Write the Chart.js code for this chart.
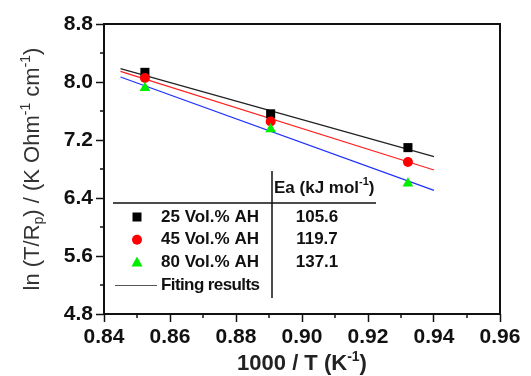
<!DOCTYPE html>
<html>
<head>
<meta charset="utf-8">
<script src="https://cdn.jsdelivr.net/npm/chart.js@4.4.1/dist/chart.umd.min.js"></script>
<style>
  html, body { margin: 0; padding: 0; background: #fff; }
  #wrap { width: 531px; height: 376px; }
</style>
</head>
<body>
<div id="wrap"><canvas id="c" width="531" height="376"></canvas></div>
<script>
// measured points, 1000/T vs ln(T/Rp)
const invT = [0.8524, 0.8905, 0.9321];
const lnVol25 = [8.133, 7.561, 7.095];
const lnVol45 = [8.055, 7.455, 6.897];
const lnVol80 = [7.917, 7.350, 6.602];

// fitted lines (end points)
const fitX = [0.845, 0.94];
const fitVol25 = [8.184, 6.970];
const fitVol45 = [8.147, 6.786];
const fitVol80 = [8.069, 6.506];

// table
const seriesNames = ['25 Vol.% AH', '45 Vol.% AH', '80 Vol.% AH'];
const eaValues = ['105.6', '119.7', '137.1'];
const fitLabel = 'Fiting results';

const FONT = '"Liberation Sans", Arial, sans-serif';

function pts(xs, ys) {
    return xs.map((x, i) => ({ x: x, y: ys[i] }));
}

// text with sub/superscripts
function drawRich(ctx, parts, x, y, size, weight) {
    const small = Math.round(size * 0.62);
    let w = 0;
    parts.forEach(p => {
        ctx.font = weight + ' ' + (p.sup || p.sub ? small : size) + 'px ' + FONT;
        p.w = ctx.measureText(p.t).width;
        w += p.w;
    });
    let cx = x - w / 2;
    ctx.textAlign = 'left';
    ctx.textBaseline = 'middle';
    parts.forEach(p => {
        ctx.font = weight + ' ' + (p.sup || p.sub ? small : size) + 'px ' + FONT;
        let dy = 0;
        if (p.sup) dy = -size * 0.33;
        if (p.sub) dy = size * 0.3;
        ctx.fillText(p.t, cx, y + dy);
        cx += p.w;
    });
}

function marker(ctx, type, x, y, color) {
    ctx.fillStyle = color;
    ctx.beginPath();
    if (type === 'rect') {
        ctx.rect(x - 4.5, y - 4.5, 9, 9);
    } else if (type === 'circle') {
        ctx.arc(x, y, 5, 0, Math.PI * 2);
    } else {
        ctx.moveTo(x, y - 6);
        ctx.lineTo(x + 5.5, y + 4);
        ctx.lineTo(x - 5.5, y + 4);
        ctx.closePath();
    }
    ctx.fill();
}

const decorations = {
    id: 'decorations',
    afterDraw(chart) {
        const ctx = chart.ctx;
        const a = chart.chartArea;
        const xs = chart.scales.x, ys = chart.scales.y;
        ctx.save();

        // minor ticks
        ctx.strokeStyle = '#111';
        ctx.lineWidth = 1.5;
        ctx.beginPath();
        xs.ticks.forEach(t => {
            if (Math.round(t.value * 100) % 2 !== 0) {
                const px = Math.round(xs.getPixelForValue(t.value));
                ctx.moveTo(px, a.bottom);
                ctx.lineTo(px, a.bottom + 4);
            }
        });
        ys.ticks.forEach(t => {
            if (Math.round(t.value * 10) % 8 !== 0) {
                const py = Math.round(ys.getPixelForValue(t.value));
                ctx.moveTo(a.left, py);
                ctx.lineTo(a.left - 4, py);
            }
        });
        ctx.stroke();

        // frame
        ctx.lineWidth = 2;
        ctx.strokeStyle = '#111';
        ctx.strokeRect(a.left, a.top, a.right - a.left, a.bottom - a.top);

        // axis titles
        ctx.fillStyle = '#222';
        drawRich(ctx, [{ t: '1000 / T (K' }, { t: '-1', sup: true }, { t: ')' }],
            (a.left + a.right) / 2, 364, 22, 'bold');
        ctx.save();
        ctx.translate(33, (a.top + a.bottom) / 2);
        ctx.rotate(-Math.PI / 2);
        ctx.fillStyle = '#333';
        drawRich(ctx, [{ t: 'ln (T/R' }, { t: 'p', sub: true }, { t: ') / (K Ohm' },
            { t: '-1', sup: true }, { t: ' cm' }, { t: '-1', sup: true }, { t: ')' }],
            0, 0, 22, 'normal');
        ctx.restore();

        // table inside the plot
        const L = a.left, T = a.top;
        ctx.strokeStyle = '#111';
        ctx.lineWidth = 1.5;
        ctx.beginPath();
        ctx.moveTo(L + 9, T + 179);
        ctx.lineTo(L + 272, T + 179);
        ctx.moveTo(L + 168, T + 147);
        ctx.lineTo(L + 168, T + 274);
        ctx.stroke();

        ctx.fillStyle = '#111';
        ctx.textAlign = 'left';
        ctx.textBaseline = 'middle';
        const hdr = [{ t: 'Ea (kJ mol' }, { t: '-1', sup: true }, { t: ')' }];
        let hw = 0;
        hdr.forEach(p => {
            ctx.font = 'bold ' + (p.sup ? 11 : 17) + 'px ' + FONT;
            hw += ctx.measureText(p.t).width;
        });
        drawRich(ctx, hdr, L + 170 + hw / 2, T + 164, 17, 'bold');

        const types = ['rect', 'circle', 'triangle'];
        const colors = ['#000000', '#ff0000', '#00ee00'];
        seriesNames.forEach((name, i) => {
            const ry = T + 193 + i * 22.7;
            marker(ctx, types[i], L + 33, ry, colors[i]);
            ctx.fillStyle = '#111';
            ctx.font = 'bold 17px ' + FONT;
            ctx.textAlign = 'left';
            ctx.fillText(name, L + 57, ry);
            ctx.textAlign = 'center';
            ctx.fillText(eaValues[i], L + 213, ry);
        });

        const fy = T + 261.5;
        ctx.strokeStyle = '#555';
        ctx.lineWidth = 1;
        ctx.beginPath();
        ctx.moveTo(L + 11, fy);
        ctx.lineTo(L + 53, fy);
        ctx.stroke();
        ctx.fillStyle = '#111';
        ctx.textAlign = 'left';
        ctx.font = 'bold 17px ' + FONT;
        ctx.letterSpacing = '-0.6px';
        ctx.fillText(fitLabel, L + 57, fy);
        ctx.restore();
    }
};

new Chart(document.getElementById('c'), {
    type: 'scatter',
    data: {
        datasets: [
            { data: pts(invT, lnVol80), pointStyle: 'triangle', pointRadius: 6.2, backgroundColor: '#00ee00', borderWidth: 0, order: 1 },
            { data: pts(invT, lnVol45), pointStyle: 'circle', pointRadius: 5, backgroundColor: '#ff0000', borderWidth: 0, order: 2 },
            { data: pts(invT, lnVol25), pointStyle: 'rect', pointRadius: 6.4, backgroundColor: '#000000', borderWidth: 0, order: 3 },
            { data: pts(fitX, fitVol25), showLine: true, pointRadius: 0, borderColor: '#222', borderWidth: 1.2, order: 4 },
            { data: pts(fitX, fitVol45), showLine: true, pointRadius: 0, borderColor: '#ff2020', borderWidth: 1.2, order: 4 },
            { data: pts(fitX, fitVol80), showLine: true, pointRadius: 0, borderColor: '#2030ff', borderWidth: 1.2, order: 4 }
        ]
    },
    options: {
        responsive: false,
        animation: false,
        events: [],
        layout: { padding: { top: 24, right: 31, left: 0, bottom: 0 } },
        plugins: { legend: { display: false }, tooltip: { enabled: false } },
        scales: {
            x: {
                type: 'linear',
                min: 0.84, max: 0.96,
                afterFit: s => { s.height = 62; },
                ticks: {
                    stepSize: 0.01,
                    autoSkip: false,
                    maxRotation: 0,
                    padding: 3,
                    color: '#111',
                    font: { family: FONT, size: 21, weight: 'bold' },
                    callback: v => (Math.round(v * 100) % 2 === 0 ? v.toFixed(2) : '')
                },
                grid: {
                    drawOnChartArea: false,
                    tickLength: 8,
                    tickWidth: 1.5,
                    tickColor: c => (Math.round(c.tick.value * 100) % 2 === 0 ? '#111' : 'rgba(0,0,0,0)')
                },
                border: { display: false }
            },
            y: {
                type: 'linear',
                min: 4.8, max: 8.8,
                afterFit: s => { s.width = 104; },
                ticks: {
                    stepSize: 0.4,
                    autoSkip: false,
                    padding: 3,
                    color: '#111',
                    font: { family: FONT, size: 21, weight: 'bold' },
                    callback: v => (Math.round(v * 10) % 8 === 0 ? v.toFixed(1) : '')
                },
                grid: {
                    drawOnChartArea: false,
                    tickLength: 8,
                    tickWidth: 1.5,
                    tickColor: c => (Math.round(c.tick.value * 10) % 8 === 0 ? '#111' : 'rgba(0,0,0,0)')
                },
                border: { display: false }
            }
        }
    },
    plugins: [decorations]
});
</script>
</body>
</html>
